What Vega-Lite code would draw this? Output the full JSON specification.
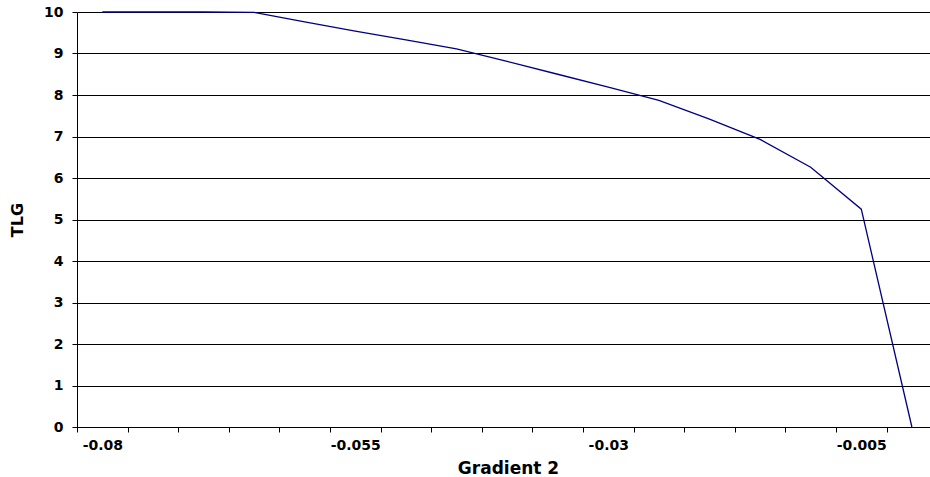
{
  "$schema": "https://vega.github.io/schema/vega-lite/v6.json",
  "autosize": {"type": "none"},
  "width": 853,
  "height": 415,
  "padding": {"left": 77, "top": 12, "right": 0, "bottom": 50},
  "background": "white",
  "config": {
    "view": {"stroke": null},
    "axis": {
      "labelFont": "DejaVu Sans",
      "titleFont": "DejaVu Sans",
      "labelFontWeight": "bold",
      "titleFontWeight": "bold",
      "labelColor": "#000",
      "titleColor": "#000",
      "domainColor": "#000",
      "tickColor": "#000",
      "labelFontSize": 14,
      "titleFontSize": 16
    }
  },
  "data": {
    "values": [
      {"g": -0.08, "tlg": 10},
      {"g": -0.075, "tlg": 10},
      {"g": -0.07, "tlg": 10},
      {"g": -0.065, "tlg": 9.99},
      {"g": -0.06, "tlg": 9.76},
      {"g": -0.055, "tlg": 9.54},
      {"g": -0.05, "tlg": 9.33},
      {"g": -0.045, "tlg": 9.11},
      {"g": -0.04, "tlg": 8.81},
      {"g": -0.035, "tlg": 8.5},
      {"g": -0.03, "tlg": 8.19},
      {"g": -0.025, "tlg": 7.87},
      {"g": -0.02, "tlg": 7.42},
      {"g": -0.015, "tlg": 6.93},
      {"g": -0.01, "tlg": 6.26},
      {"g": -0.005, "tlg": 5.25},
      {"g": 0, "tlg": 0}
    ]
  },
  "mark": {"type": "line", "color": "#000080", "strokeWidth": 1.3},
  "encoding": {
    "x": {
      "field": "g",
      "type": "quantitative",
      "scale": {"domain": [-0.0825, 0.00179], "nice": false, "zero": false},
      "axis": {
        "title": "Gradient 2",
        "titleFontSize": 17,
        "titleX": 431,
        "titlePadding": 8,
        "grid": false,
        "values": [-0.0825, -0.0775, -0.0725, -0.0675, -0.0625, -0.0575, -0.0525, -0.0475, -0.0425, -0.0375, -0.0325, -0.0275, -0.0225, -0.0175, -0.0125, -0.0075, -0.0025],
        "labelExpr": "abs(datum.value + 0.0825) < 0.0001 ? '-0.08' : abs(datum.value + 0.0575) < 0.0001 ? '-0.055' : abs(datum.value + 0.0325) < 0.0001 ? '-0.03' : abs(datum.value + 0.0075) < 0.0001 ? '-0.005' : ''",
        "labelOffset": 25.3,
        "labelFlush": false,
        "labelOverlap": false,
        "labelBound": false,
        "labelPadding": 6,
        "tickSize": 5
      }
    },
    "y": {
      "field": "tlg",
      "type": "quantitative",
      "scale": {"domain": [0, 10], "nice": false},
      "axis": {
        "title": "TLG",
        "values": [0, 1, 2, 3, 4, 5, 6, 7, 8, 9, 10],
        "grid": true,
        "gridColor": "#000",
        "gridOpacity": 1,
        "gridWidth": 1,
        "tickSize": 5,
        "labelPadding": 9,
        "titlePadding": 18
      }
    }
  }
}
